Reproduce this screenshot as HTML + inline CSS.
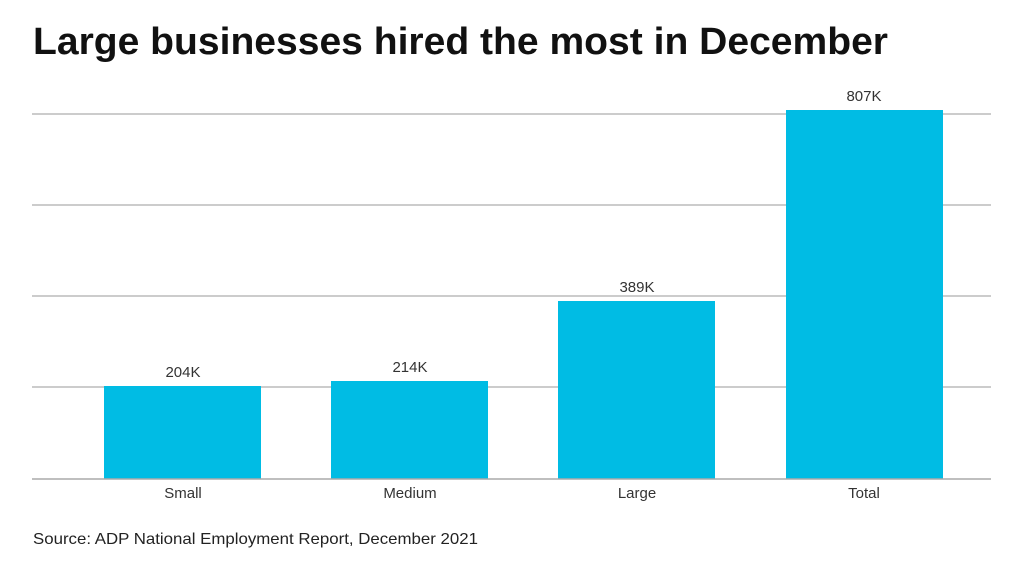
<!DOCTYPE html>
<html><head><meta charset="utf-8"><style>
body{margin:0;width:1024px;height:576px;background:#fff;overflow:hidden;font-family:"Liberation Sans",sans-serif;}
</style></head><body>
<svg width="1024" height="576" xmlns="http://www.w3.org/2000/svg" font-family="Liberation Sans, sans-serif">
<text x="33" y="54" font-size="38" font-weight="bold" fill="#111" textLength="855" lengthAdjust="spacingAndGlyphs">Large businesses hired the most in December</text>
<g stroke="#bbb" stroke-width="1.5">
<line x1="32" y1="114" x2="991" y2="114"/>
<line x1="32" y1="205" x2="991" y2="205"/>
<line x1="32" y1="296" x2="991" y2="296"/>
<line x1="32" y1="387" x2="991" y2="387"/>
</g>
<g fill="#00bce4">
<rect x="104" y="386" width="157" height="93"/>
<rect x="331" y="381" width="157" height="98"/>
<rect x="558" y="301" width="157" height="178"/>
<rect x="786" y="110" width="157" height="369"/>
</g>
<line x1="32" y1="479" x2="991" y2="479" stroke="#aaa" stroke-width="1.5"/>
<g font-size="15" fill="#333" text-anchor="middle">
<text x="183" y="377">204K</text>
<text x="410" y="372">214K</text>
<text x="637" y="292">389K</text>
<text x="864" y="101">807K</text>
<text x="183" y="498">Small</text>
<text x="410" y="498">Medium</text>
<text x="637" y="498">Large</text>
<text x="864" y="498">Total</text>
</g>
<text x="33" y="544" font-size="16" fill="#222" textLength="445" lengthAdjust="spacingAndGlyphs">Source: ADP National Employment Report, December 2021</text>
</svg>
</body></html>
